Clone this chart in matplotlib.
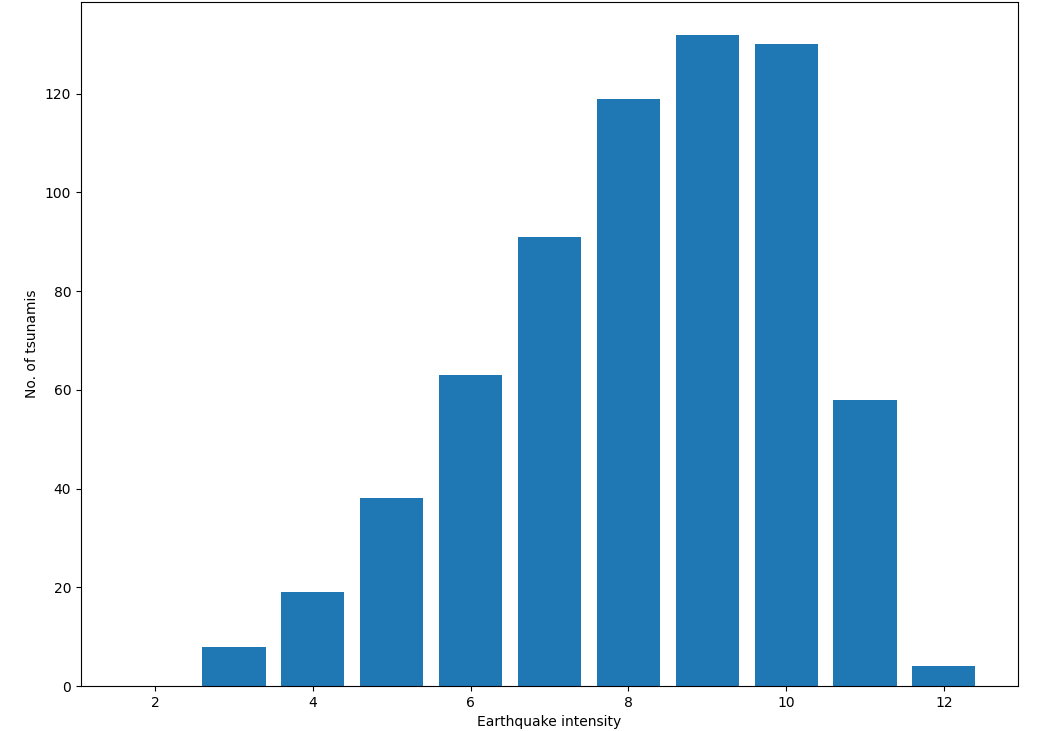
import matplotlib
matplotlib.use("Agg")
import matplotlib.pyplot as plt

intensity = [2, 3, 4, 5, 6, 7, 8, 9, 10, 11, 12]
counts = [0, 8, 19, 38, 63, 91, 119, 132, 130, 58, 4]

fig = plt.figure(figsize=(10.43, 7.31), dpi=100)
ax = fig.add_axes([81/1043, 45/731, (1018-81)/1043, (686-2)/731])
ax.bar(intensity, counts, color="#1f77b4", width=0.8)
ax.set_xlabel("Earthquake intensity")
ax.set_ylabel("No. of tsunamis")
fig.savefig("out.png", dpi=100)
